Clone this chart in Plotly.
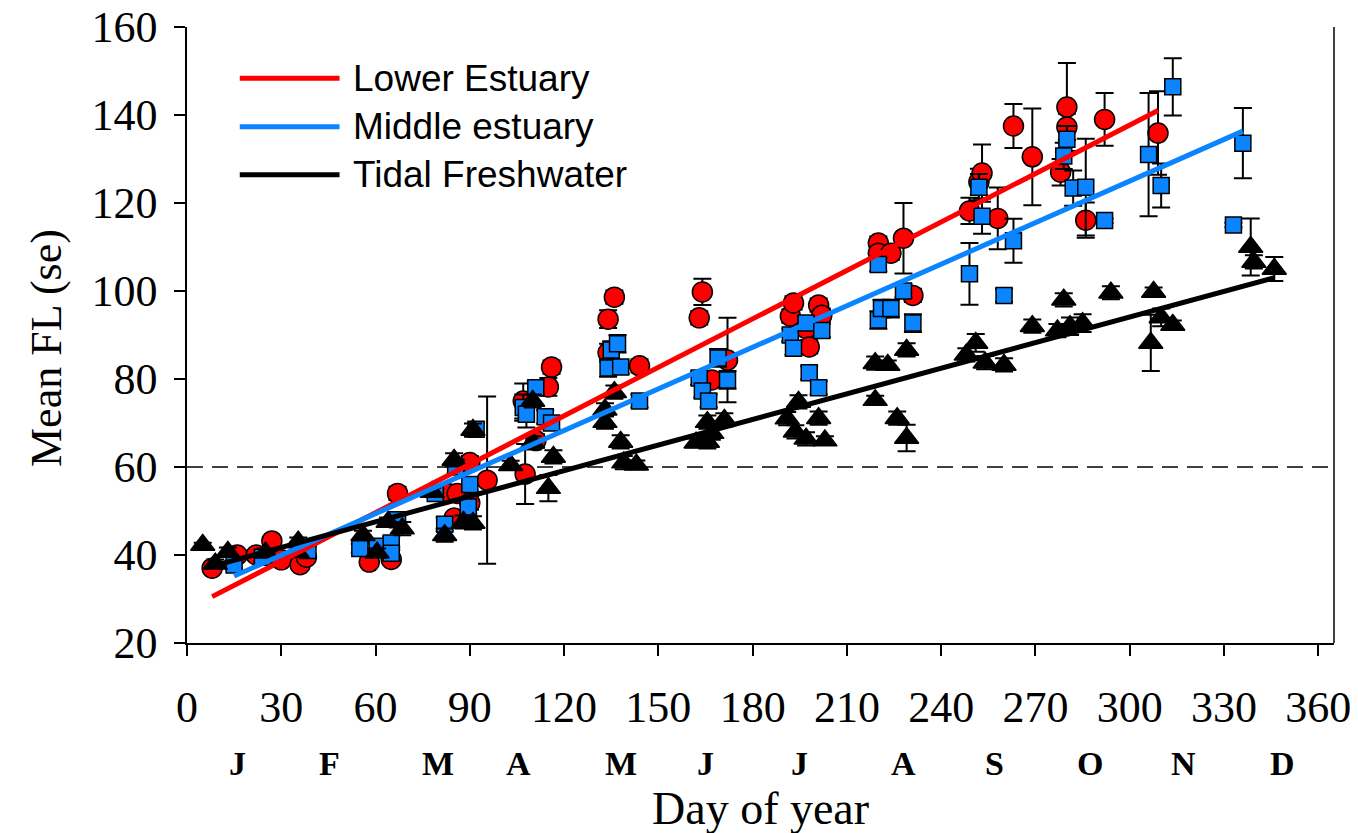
import plotly.graph_objects as go

# Lower Estuary: day of year, mean fork length, standard error
lower_day = [8, 16, 22, 27, 30, 36, 38, 58, 65, 67, 83, 86, 85, 90, 90, 95.5, 107.6, 107, 111, 115, 116,
             134, 136, 134, 144, 163, 164, 167, 172, 192, 193, 197, 198, 201, 202, 220, 220, 224, 228, 231,
             249, 252, 253, 258, 263, 269, 278, 280, 280, 286, 292, 309]
lower_fl = [37, 40, 40, 43.2, 38.9, 37.8, 39.5, 38.4, 39, 54, 54, 54, 48.4, 51.8, 61, 57, 58.4, 75, 66, 78.2, 82.7,
            93.6, 98.6, 86, 83, 93.9, 99.8, 79.8, 84.3, 94.3, 97.3, 91.5, 87.3, 96.8, 94.5, 110.9, 108.6, 108.6, 112, 99,
            118.2, 124.8, 126.8, 116.5, 137.5, 130.5, 127, 137.3, 141.8, 116.1, 139, 135.9]
lower_se = [1, 1, 1, 1, 1, 1, 1, 1, 1, 1.5, 1, 1, 1, 1.5, 1.5, 19, 6.8, 4, 1.5, 2, 1.5,
            2, 1.5, 2, 1.5, 1.5, 3, 1.5, 9.6, 1.5, 1.5, 1.5, 1.5, 1.5, 1.5, 1.5, 1.5, 1.5, 8, 1.5,
            3, 3, 6.5, 7, 5, 11, 3, 3, 10, 4, 6, 9.5]

# Middle estuary
middle_day = [15, 24, 38.5, 55, 60.5, 65, 65, 67, 79, 82, 85.5, 89.5, 90, 92, 107, 108, 111, 114, 116,
              134, 135, 137, 138, 144, 163, 164, 166, 169, 172, 192, 193, 197, 202, 198, 201,
              220, 220, 221, 224, 228, 231, 249, 252, 253, 260, 263, 279, 280, 282, 286, 292,
              306, 310, 313.7, 333, 336]
middle_fl = [37.7, 39.5, 41, 41.5, 42, 42.7, 40.4, 48, 54, 47, 60, 50.9, 56, 68.6, 73.5, 72, 78, 71.4, 70,
             82.5, 86.6, 88, 82.7, 75, 80.2, 77.3, 75, 84.8, 79.8, 90, 87, 92.7, 91, 81.4, 78,
             106, 93.4, 96, 96, 100, 92.7, 103.9, 123.6, 117, 99, 111.4, 130.7, 134.5, 123.4, 123.6, 116,
             131, 124, 146.4, 115, 133.6]
middle_se = [1, 1, 1, 1, 1, 1.5, 1.5, 1.5, 1, 1.5, 1.5, 1.5, 1.5, 1.5, 3, 3, 1.5, 1.5, 1.5,
             2, 2, 2, 1.5, 1.5, 1.5, 1.5, 1.5, 2, 2, 1.5, 1.5, 1.5, 1.5, 1.5, 1.5,
             1.5, 2, 2, 2, 1.5, 2, 7, 3, 4, 1.5, 5, 3, 3, 4, 11, 0.5,
             14, 5, 6.5, 0.5, 8]

# Tidal Freshwater
tidal_day = [5, 9, 13, 25, 35, 35.4, 56, 60.5, 64, 68.5, 78, 82, 85, 88, 91, 91, 103, 110, 110, 115, 116.6,
             133, 133, 136, 138, 139, 143, 162, 165.6, 165.6, 167, 171, 191, 194.6, 193.6, 197, 201, 203,
             219, 219, 223, 226, 229, 229, 248, 251, 254, 260, 269, 277, 279, 281, 285, 294,
             306.7, 307.6, 310, 313.7, 338.5, 339.5, 346]
tidal_fl = [42.3, 38, 40.7, 40.5, 40.7, 43, 44.5, 40.5, 47.5, 46, 54.3, 44.5, 61.6, 47.5, 47.3, 68.4, 60.4, 75, 65.5, 55.2, 62.3,
            73, 70.2, 77, 65.7, 61, 60.5, 65.5, 70.2, 65.7, 67.7, 70.7, 71, 74.8, 68, 66.4, 71.1, 66,
            83.6, 75.2, 83.2, 71.1, 86.6, 66.6, 85.5, 88.2, 83.7, 83.2, 92, 91, 98, 92, 92.7, 99.6,
            88.2, 99.8, 94, 92.3, 110, 106.6, 105]
tidal_se = [0.5, 1, 1, 1, 1, 1, 1, 1, 1, 1.5, 1, 1.5, 1.5, 1.5, 1.5, 1.5, 1, 1.5, 1.5, 3, 1.5,
            1.5, 1.5, 1.5, 1.5, 1.5, 1, 1, 1.5, 1.5, 1.5, 1.5, 1.5, 1.5, 1.5, 1.5, 1.5, 1,
            1.5, 1, 1, 1.5, 1.5, 3, 1.5, 2, 1.5, 1.5, 1.5, 1.5, 1.5, 2, 2, 1.5,
            6.4, 1, 2, 1, 6.5, 1.5, 2.7]

# Linear fits: intercept, slope, first and last day of the fitted range
fit_lower = (27.6, 0.367, 8, 309)
fit_middle = (30.5, 0.315, 15, 336)
fit_tidal = (35.9, 0.194, 6, 346)

series_names = ["Lower Estuary", "Middle estuary", "Tidal Freshwater"]
x_ticks = [0, 30, 60, 90, 120, 150, 180, 210, 240, 270, 300, 330, 360]
y_ticks = [20, 40, 60, 80, 100, 120, 140, 160]
month_labels = ["J", "F", "M", "A", "M", "J", "J", "A", "S", "O", "N", "D"]
month_mid_day = [16, 45.5, 80, 105.5, 138, 165, 195, 228, 257, 287.5, 317, 348.5]

RED = "#ff0000"
BLUE = "#0a84ff"
BLACK = "#000000"
SERIF = "Liberation Serif"
SANS = "Liberation Sans"

fig = go.Figure()


def add_points(days, fl, se, symbol, fill, size):
    fig.add_trace(go.Scatter(
        x=days, y=fl, mode="markers",
        marker=dict(symbol=symbol, color=fill, size=size, line=dict(color=BLACK, width=1.5)),
        error_y=dict(type="data", array=se, visible=True, color=BLACK, thickness=2, width=9),
        showlegend=False, hoverinfo="skip",
    ))


add_points(lower_day, lower_fl, lower_se, "circle", RED, 20)
add_points(middle_day, middle_fl, middle_se, "square", BLUE, 16)
add_points(tidal_day, tidal_fl, tidal_se, "triangle-up", BLACK, 21)

for fit, color in [(fit_lower, RED), (fit_middle, BLUE), (fit_tidal, BLACK)]:
    a, b, x0, x1 = fit
    fig.add_trace(go.Scatter(
        x=[x0, x1], y=[a + b * x0, a + b * x1], mode="lines",
        line=dict(color=color, width=5), showlegend=False, hoverinfo="skip",
    ))

# 60 mm reference line
fig.add_shape(type="line", xref="paper", x0=0, x1=1, yref="y", y0=60, y1=60,
              line=dict(color=BLACK, width=1.5, dash="16px,9px"), layer="below")
# right-hand frame edge
fig.add_shape(type="line", xref="paper", x0=1, x1=1, yref="paper", y0=0, y1=1,
              line=dict(color=BLACK, width=1.5))

# legend drawn as line samples with labels
legend_y = [0.917, 0.838, 0.76]
for name, color, ly in zip(series_names, [RED, BLUE, BLACK], legend_y):
    fig.add_shape(type="line", xref="paper", yref="paper", x0=0.046, x1=0.133, y0=ly, y1=ly,
                  line=dict(color=color, width=5))
    fig.add_annotation(xref="paper", yref="paper", x=0.143, y=ly, text=name, showarrow=False,
                       xanchor="left", yanchor="middle", font=dict(family=SANS, size=37, color=BLACK))

for lab, d in zip(month_labels, month_mid_day):
    fig.add_annotation(xref="x", yref="paper", x=d, y=-0.195, text="<b>%s</b>" % lab, showarrow=False,
                       xanchor="center", yanchor="middle", font=dict(family=SERIF, size=34, color=BLACK))

# axis titles
fig.add_annotation(xref="paper", yref="paper", x=0.5, y=-0.268, text="Day of year", showarrow=False,
                   xanchor="center", yanchor="middle", font=dict(family=SERIF, size=46, color=BLACK))
fig.add_annotation(xref="paper", yref="paper", x=-0.122, y=0.479, text="Mean FL (se)", showarrow=False,
                   textangle=-90, xanchor="center", yanchor="middle",
                   font=dict(family=SERIF, size=44, color=BLACK))

fig.update_layout(
    width=1358, height=833,
    margin=dict(l=187, r=24, t=27, b=190, autoexpand=False),
    paper_bgcolor="white", plot_bgcolor="white",
    font=dict(family=SERIF, color=BLACK),
    xaxis=dict(
        range=[0, 365], tickvals=x_ticks, ticks="outside", ticklen=11, tickwidth=1.5,
        tickcolor=BLACK, showline=True, linecolor=BLACK, linewidth=1.5, showgrid=False, zeroline=False,
        tickfont=dict(family=SERIF, size=44), ticklabelstandoff=13, automargin=False,
    ),
    yaxis=dict(
        range=[20, 160], tickvals=y_ticks, ticks="outside", ticklen=11, tickwidth=1.5,
        tickcolor=BLACK, showline=True, linecolor=BLACK, linewidth=1.5, showgrid=False, zeroline=False,
        tickfont=dict(family=SERIF, size=44), ticklabelstandoff=8, automargin=False,
    ),
)

fig.write_html("out.html")
